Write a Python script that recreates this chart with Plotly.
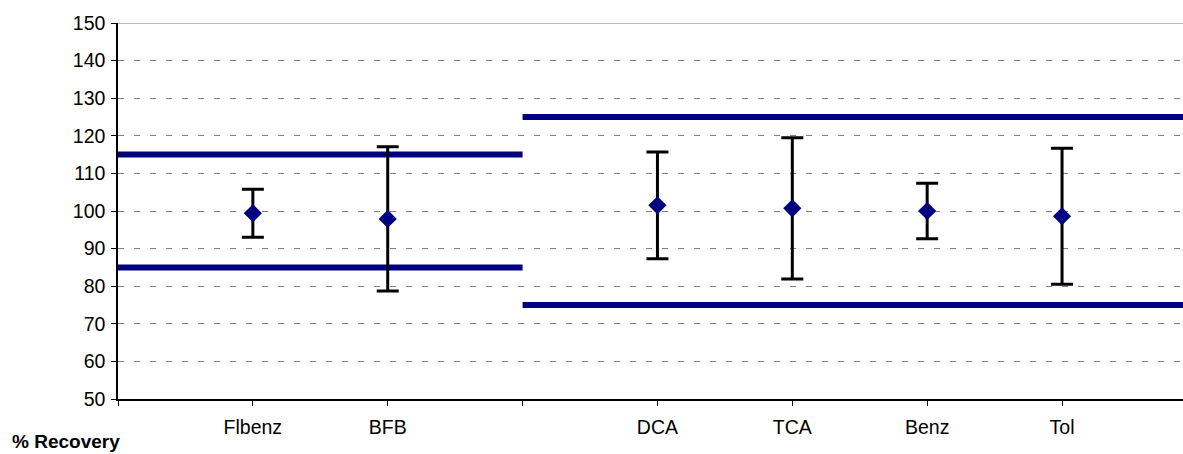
import plotly.graph_objects as go

# Category slots along the x axis (blank slots separate the two groups)
slot_labels = ["", "Flbenz", "BFB", "", "DCA", "TCA", "Benz", "Tol"]

# Compounds with mean recovery (%) and error half-width
compounds = ["Flbenz", "BFB", "DCA", "TCA", "Benz", "Tol"]
compound_slots = [1, 2, 4, 5, 6, 7]
recovery = [99.4, 97.9, 101.5, 100.7, 100.0, 98.6]
error = [6.4, 19.2, 14.2, 18.8, 7.4, 18.1]

# Acceptance limits for each group: (slot span, lower, upper)
surrogate_span = [0, 3]
surrogate_limits = [85, 115]
target_span = [3, 8]
target_limits = [75, 125]

y_ticks = list(range(50, 151, 10))

navy = "#000080"
font_family = "Liberation Sans, Arial, sans-serif"

fig = go.Figure()

for lim in surrogate_limits:
    fig.add_trace(go.Scatter(
        x=surrogate_span, y=[lim, lim], mode="lines",
        line=dict(color=navy, width=6), hoverinfo="skip", showlegend=False,
    ))
for lim in target_limits:
    fig.add_trace(go.Scatter(
        x=target_span, y=[lim, lim], mode="lines",
        line=dict(color=navy, width=6), hoverinfo="skip", showlegend=False,
    ))

fig.add_trace(go.Scatter(
    x=compound_slots, y=recovery, mode="markers", text=compounds,
    marker=dict(symbol="diamond", size=14, color=navy,
                line=dict(color=navy, width=0)),
    error_y=dict(type="data", array=error, visible=True,
                 color="black", thickness=3, width=11),
    showlegend=False,
))

# Solid frame line along the top of the plot area
fig.add_shape(type="line", xref="paper", yref="y", x0=0, x1=1, y0=150, y1=150,
              line=dict(color="#808080", width=1), layer="below")

fig.add_annotation(
    text="<b>% Recovery</b>", xref="paper", yref="paper",
    x=-0.1014, y=-0.145, xanchor="left", yanchor="bottom", showarrow=False,
    font=dict(family=font_family, size=19, color="black"),
)

fig.update_layout(
    width=1183, height=454,
    margin=dict(l=118, r=0, t=23, b=55),
    paper_bgcolor="white", plot_bgcolor="white",
    font=dict(family=font_family, size=19.5, color="black"),
    xaxis=dict(
        range=[0, 7.897], tickmode="array",
        tickvals=list(range(len(slot_labels) + 1)),
        ticktext=slot_labels + [""],
        showgrid=False, zeroline=False,
        showline=True, linecolor="black", linewidth=1.5,
        ticks="outside", ticklen=5, tickcolor="black", tickwidth=1,
        ticklabelstandoff=5,
    ),
    yaxis=dict(
        range=[50, 150], tickmode="array", tickvals=y_ticks,
        showgrid=True, gridcolor="#808080", gridwidth=1, griddash="6px,10px",
        zeroline=False,
        showline=True, linecolor="black", linewidth=1.5,
        ticks="outside", ticklen=5, tickcolor="black", tickwidth=1,
        ticklabelstandoff=2,
    ),
)

fig.write_html("out.html")
